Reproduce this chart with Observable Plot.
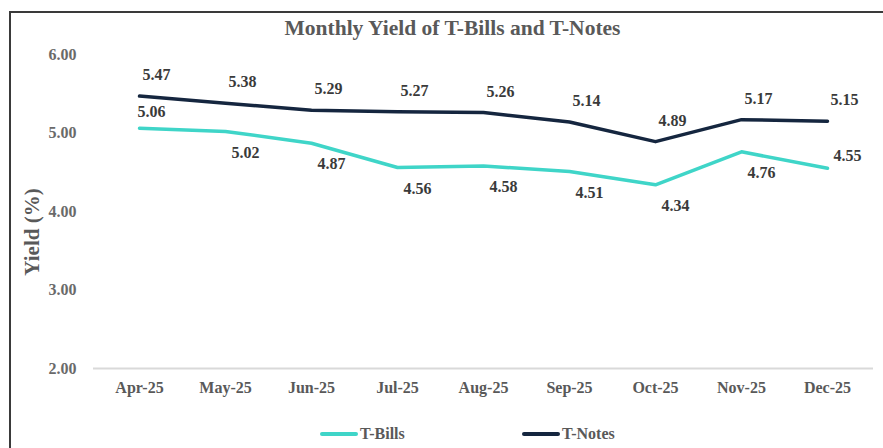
<!DOCTYPE html>
<html>
<head>
<meta charset="utf-8">
<script src="https://cdn.jsdelivr.net/npm/d3@7"></script>
<script src="https://cdn.jsdelivr.net/npm/@observablehq/plot@0.6"></script>
<style>
  html, body { margin: 0; padding: 0; background: #fff; overflow: hidden; }
  #wrap { position: relative; width: 883px; height: 448px; font-family: "Liberation Serif", "Times New Roman", Times, serif; }
  #frame { position: absolute; left: 9px; top: 11px; width: 900px; height: 435px;
           border-left: 2px solid #3a3a3a; border-top: 2px solid #3a3a3a; border-bottom: 1px solid #e2e2e2; }
  #title { position: absolute; left: 0; width: 905px; top: 16px; text-align: center;
           font-size: 21.5px; font-weight: bold; color: #595959; }
  #chart { position: absolute; left: 0; top: 0; }
  #legend { position: absolute; top: 425px; left: 0; width: 883px; height: 20px;
            font-size: 16px; font-weight: bold; color: #595959; }
  .item { position: absolute; top: 0; display: flex; align-items: center; }
  .swatch { width: 38px; height: 4px; border-radius: 2px; margin-right: 2px; }
  svg text { font-family: "Liberation Serif", "Times New Roman", Times, serif; }
</style>
</head>
<body>
<div id="wrap">
  <div id="frame"></div>
  <div id="chart"></div>
  <div id="title">Monthly Yield of T-Bills and T-Notes</div>
  <div id="legend"></div>
</div>
<script>
const months = ["Apr-25","May-25","Jun-25","Jul-25","Aug-25","Sep-25","Oct-25","Nov-25","Dec-25"];
const tBills = [5.06, 5.02, 4.87, 4.56, 4.58, 4.51, 4.34, 4.76, 4.55];
const tNotes = [5.47, 5.38, 5.29, 5.27, 5.26, 5.14, 4.89, 5.17, 5.15];
const seriesNames = ["T-Bills", "T-Notes"];
const seriesColors = ["#3fd5c8", "#15263f"];
const yTicks = [2, 3, 4, 5, 6];

const FONT = "'Liberation Serif', 'Times New Roman', Times, serif";

const rows = [];
months.forEach((m, i) => {
  rows.push({month: m, series: "T-Bills", value: tBills[i], i});
  rows.push({month: m, series: "T-Notes", value: tNotes[i], i});
});
const last = months.length - 1;
const notes = rows.filter(d => d.series === "T-Notes");
const billsBelow = rows.filter(d => d.series === "T-Bills" && d.i > 0 && d.i < last);
const billsAbove = rows.filter(d => d.series === "T-Bills" && d.i === 0);
const billsRight = rows.filter(d => d.series === "T-Bills" && d.i === last);

const labelStyle = {x: "month", y: "value", text: d => d3.format(".2f")(d.value),
  fill: "#3a3a3a", fontSize: 16, fontWeight: "bold", fontFamily: FONT};

const plot = Plot.plot({
  width: 883,
  height: 448,
  marginTop: 54,
  marginBottom: 80,
  marginLeft: 93,
  marginRight: 10,
  style: {fontFamily: FONT, fontSize: "16px", background: "transparent", overflow: "visible"},
  x: {type: "point", domain: months, padding: 0.5, label: null},
  y: {domain: [2, 6], label: null},
  color: {domain: seriesNames, range: seriesColors},
  marks: [
    Plot.ruleY([2], {stroke: "#d9d9d9", strokeWidth: 2}),
    Plot.axisX({tickSize: 0, tickPadding: 13, fontWeight: "bold", fill: "#595959", fontSize: 16}),
    Plot.axisY({ticks: yTicks, tickFormat: ".2f", tickSize: 0, tickPadding: 17, fontWeight: "bold",
      fill: "#6a6a6a", fontSize: 16, label: null}),
    Plot.line(rows, {x: "month", y: "value", z: "series", stroke: "series", strokeWidth: 3.5,
      strokeLinejoin: "round", strokeLinecap: "round"}),
    Plot.text(notes, {...labelStyle, dx: 17, dy: -21}),
    Plot.text(billsBelow, {...labelStyle, dx: 20, dy: 21}),
    Plot.text(billsAbove, {...labelStyle, dx: 12, dy: -16}),
    Plot.text(billsRight, {...labelStyle, dx: 20, dy: -12})
  ]
});
document.getElementById("chart").appendChild(plot);

// rotated y-axis title
const svg = d3.select(plot);
svg.append("text")
  .attr("transform", "translate(32,232) rotate(-90)")
  .attr("text-anchor", "middle")
  .attr("dominant-baseline", "central")
  .attr("font-family", FONT)
  .attr("font-weight", "bold")
  .attr("font-size", 21)
  .attr("fill", "#595959")
  .text("Yield (%)");

// legend
const legend = document.getElementById("legend");
const legendLeft = [320, 522];
seriesNames.forEach((name, k) => {
  const item = document.createElement("div");
  item.className = "item";
  item.style.left = legendLeft[k] + "px";
  const sw = document.createElement("div");
  sw.className = "swatch";
  sw.style.background = seriesColors[k];
  const lab = document.createElement("span");
  lab.textContent = name;
  item.appendChild(sw);
  item.appendChild(lab);
  legend.appendChild(item);
});
</script>
</body>
</html>
